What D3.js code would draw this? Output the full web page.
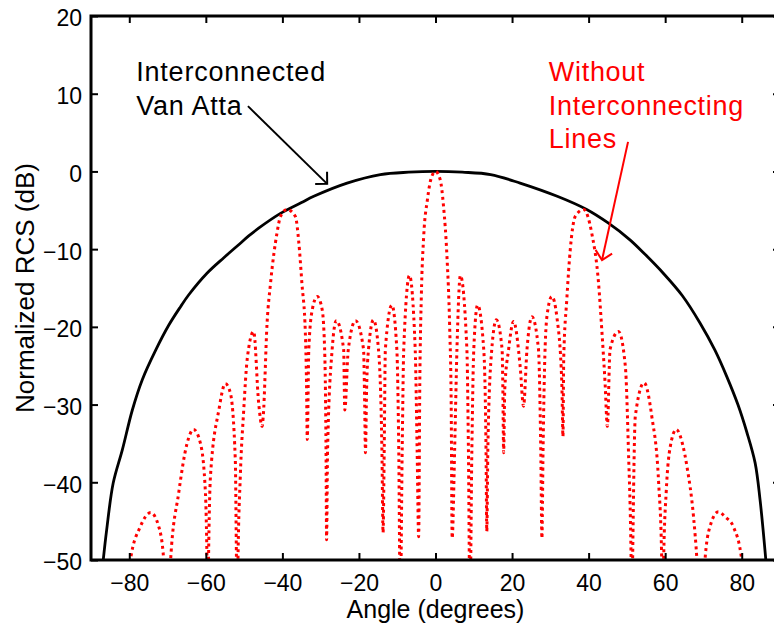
<!DOCTYPE html>
<html>
<head>
<meta charset="utf-8">
<script src="https://cdn.jsdelivr.net/npm/d3@7"></script>
<style>
  body { margin: 0; background: #fff; }
  svg { display: block; font-family: "Liberation Sans", Arial, sans-serif; }
</style>
</head>
<body>
<div id="chart"></div>
<script>
// tick values
const xTicks = [-80, -60, -40, -20, 0, 20, 40, 60, 80];
const yTicks = [-50, -40, -30, -20, -10, 0, 10, 20];

// interconnected Van Atta (solid black)
const vaAngle = [-86.8, -85.9, -84.2, -81.8, -79.2, -76.6, -73.1, -69.7, -66.6, -64.5, -59.7, -55.3, -51.8, -48.8, -46.2, -40.5, -35, -31.8, -23.1, -14.4, -7, 0,
  7, 14.4, 22.1, 31.8, 39.5, 45, 50.8, 55, 59.5, 64.5, 69.1, 73, 76.1, 79, 81.3, 83.5, 84.8, 86.3];
const vaDb = [-50, -46.1, -40.1, -35.8, -30.7, -26.8, -23.0, -19.8, -17.4, -15.9, -13.1, -11.1, -9.6, -8.3, -7.3, -5.4, -4.0, -3.2, -1.5, -0.4, -0.1, 0,
  -0.1, -0.4, -1.5, -3.2, -4.9, -6.6, -8.8, -10.8, -13.1, -16.0, -19.5, -23.0, -26.4, -30.0, -33.5, -37.5, -42.3, -50];

// without interconnecting lines (red dotted)
const rcsAngle = [
  -80.6, -79.7, -77.1, -74.4, -72.3, -71.0, -70.1,
  -69.2, -67.1, -64.9, -63.2, -61.4, -60.1, -59.7, -59.5,
  -59.3, -58.8, -56.6, -54.9, -53.6, -52.3, -52.0, -51.8,
  -51.6, -51.0, -50.1, -49.2, -47.5, -46.2, -45.3,
  -45.0, -44.0, -43.1, -41.4, -40.5, -38.8, -36.6, -35.7, -34.9, -34.0, -33.7, -33.5,
  -33.1, -32.2, -30.9, -29.6, -28.9, -28.6, -28.45,
  -28.2, -27.0, -25.9, -24.0, -23.7,
  -22.8, -20.9, -18.8, -18.5, -18.3,
  -18.0, -17.5, -16.2, -14.9, -14.0, -13.7,
  -13.4, -13.1, -11.4, -10.1, -9.6, -9.2,
  -8.7, -8.3, -6.8, -5.3, -4.8, -4.4,
  -4.1, -3.7, -3.1, -2.1, -1.2, 0, 1.2, 2.1, 3.0, 3.7, 4.1, 4.35,
  5.0, 5.6, 6.5, 8.2, 8.6, 9.0,
  9.5, 10.0, 11.0, 12.6, 13.2, 13.4,
  13.7, 14.7, 15.9, 17.4, 17.6, 17.8,
  18.1, 19.1, 20.4, 22.1, 23.0,
  23.9, 25.2, 26.9, 27.5, 27.8,
  28.1, 28.4, 29.1, 30.4, 31.7, 33.0, 33.3,
  33.5, 34.3, 35.2, 36.5, 38.7, 40.8, 42.6, 43.5, 44.3, 44.9,
  45.6, 47.8, 49.6, 50.4, 51.1, 51.3,
  51.5, 52.2, 54.5, 56.5, 58.3, 59.1, 59.35,
  59.6, 60.3, 61.3, 62.9, 64.6, 65.7, 67.4, 68.3, 69.3,
  70.4, 71.7, 73.9, 75.8, 77.8, 80.0, 80.8
];
const rcsDb = [
  -58, -50, -45.7, -43.9, -45.7, -50, -60,
  -50, -41.4, -35.0, -33.2, -35.0, -41.4, -50, -58,
  -50, -39.3, -30.7, -27.3, -28.5, -37.1, -50, -58,
  -50, -39.3, -30.7, -24.2, -20.6, -29.8, -32.8,
  -31.5, -19.5, -14.4, -7.9, -5.8, -4.9, -5.8, -9.2, -14.4, -20.8, -27.2, -34.5,
  -22.9, -17.8, -16.1, -17.8, -24, -36, -47.4,
  -36, -22.9, -19.2, -22.9, -30.7,
  -23.0, -19.2, -22.9, -30, -36.2,
  -28, -22.9, -19.1, -22.9, -35.8, -46.5,
  -35.8, -22.9, -17.2, -22.9, -35.8, -56,
  -35.8, -22.9, -13.4, -22.9, -35.8, -47,
  -27.2, -16, -8.5, -3.6, -1.0, 0, -1.0, -4.5, -11, -20, -30, -47.2,
  -35.8, -22.9, -13.4, -22.9, -35.8, -56,
  -35.8, -22.9, -17.2, -22.9, -35.8, -46.3,
  -35, -22.9, -19.1, -22.9, -28, -36.2,
  -28, -22.9, -19.3, -25, -30.2,
  -22.9, -18.7, -22.9, -35.8, -47.2,
  -35.8, -27.2, -18.7, -16.1, -18.7, -27.2, -34.1,
  -24, -16.5, -10.1, -5.8, -4.9, -7.9, -14.4, -20.8, -27.2, -32.8,
  -22.9, -20.6, -25.1, -35.8, -50, -58,
  -50, -31.5, -27.2, -31.5, -40.1, -50, -58,
  -50, -41, -35.5, -33.2, -35.2, -38, -44.4, -50, -60,
  -50, -45.7, -43.8, -44.5, -45.7, -50, -58
];

// annotations
const blackLabel = ['Interconnected', 'Van Atta'];
const redLabel = ['Without', 'Interconnecting', 'Lines'];

const width = 774;
const height = 628;
const margin = {top: 16, left: 91};
const plotW = 689;
const plotH = 544;

const x = d3.scaleLinear().domain([-90, 90]).range([margin.left, margin.left + plotW]);
const y = d3.scaleLinear().domain([-50, 20]).range([margin.top + plotH, margin.top]);

const svg = d3.select('#chart')
  .append('svg')
  .attr('width', width)
  .attr('height', height);

svg.append('clipPath')
  .attr('id', 'plotclip')
  .append('rect')
  .attr('x', x(-90)).attr('y', y(20))
  .attr('width', plotW).attr('height', plotH);

const smoothLine = d3.line()
  .x(d => x(d[0]))
  .y(d => y(d[1]))
  .curve(d3.curveCatmullRom.alpha(0.5));

const lobeLine = d3.line()
  .x(d => x(d[0]))
  .y(d => y(d[1]))
  .curve(d3.curveMonotoneX);

const vaData = vaAngle.map((a, i) => [a, vaDb[i]]);
const rcsData = rcsAngle.map((a, i) => [a, rcsDb[i]]);

const plot = svg.append('g').attr('clip-path', 'url(#plotclip)');

plot.append('path')
  .datum(vaData)
  .attr('d', smoothLine)
  .attr('fill', 'none')
  .attr('stroke', '#000')
  .attr('stroke-width', 2.8);

plot.append('path')
  .datum(rcsData)
  .attr('d', lobeLine)
  .attr('fill', 'none')
  .attr('stroke', '#ff0000')
  .attr('stroke-width', 3)
  .attr('stroke-dasharray', '3,3.6');

// axes, ticks inward
const fmt = d3.format('');
const axBottom = svg.append('g')
  .attr('transform', `translate(0,${y(-50)})`)
  .call(d3.axisBottom(x).tickValues(xTicks).tickSizeInner(-7).tickSizeOuter(0).tickPadding(14.5).tickFormat(fmt));
const axTop = svg.append('g')
  .attr('transform', `translate(0,${y(20)})`)
  .call(d3.axisTop(x).tickValues(xTicks).tickSizeInner(-7).tickSizeOuter(0).tickFormat(''));
const axLeft = svg.append('g')
  .attr('transform', `translate(${x(-90)},0)`)
  .call(d3.axisLeft(y).tickValues(yTicks).tickSizeInner(-7).tickSizeOuter(0).tickPadding(9).tickFormat(fmt));
const axRight = svg.append('g')
  .attr('transform', `translate(${x(90)},0)`)
  .call(d3.axisRight(y).tickValues(yTicks).tickSizeInner(-7).tickSizeOuter(0).tickFormat(''));

[axBottom, axTop, axLeft, axRight].forEach(g => {
  g.select('.domain').remove();
  g.selectAll('.tick line').attr('stroke', '#000').attr('stroke-width', 2);
  g.selectAll('.tick text')
    .attr('fill', '#000')
    .style('font-size', '23px')
    .style('font-family', '"Liberation Sans", Arial, sans-serif');
});
axLeft.selectAll('.tick text').attr('dy', '0.43em');

svg.append('rect')
  .attr('x', x(-90)).attr('y', y(20))
  .attr('width', plotW).attr('height', plotH)
  .attr('fill', 'none')
  .attr('stroke', '#000')
  .attr('stroke-width', 3);

// axis titles
svg.append('text')
  .attr('x', x(0))
  .attr('y', 618)
  .attr('text-anchor', 'middle')
  .style('font-size', '25px')
  .text('Angle (degrees)');

svg.append('text')
  .attr('transform', `translate(34,${(y(20) + y(-50)) / 2}) rotate(-90)`)
  .attr('text-anchor', 'middle')
  .style('font-size', '26px')
  .text('Normalized RCS (dB)');

// annotation arrows, open V head
function arrow(x0, y0, x1, y1, color) {
  const px0 = x(x0), py0 = y(y0), px1 = x(x1), py1 = y(y1);
  const len = Math.hypot(px0 - px1, py0 - py1);
  const ux = (px0 - px1) / len, uy = (py0 - py1) / len;
  const head = 12, c = Math.SQRT1_2;
  const a1 = [px1 + head * (ux * c - uy * c), py1 + head * (ux * c + uy * c)];
  const a2 = [px1 + head * (ux * c + uy * c), py1 + head * (-ux * c + uy * c)];
  const g = svg.append('g').attr('stroke', color).attr('stroke-width', 2).attr('fill', 'none');
  g.append('line').attr('x1', px0).attr('y1', py0).attr('x2', px1).attr('y2', py1);
  g.append('polyline').attr('points', `${a1} ${px1},${py1} ${a2}`);
}

svg.append('g')
  .selectAll('text')
  .data(blackLabel)
  .enter().append('text')
    .attr('x', x(-78.2))
    .attr('y', (d, i) => y(11.6) + i * 34)
    .style('font-size', '27px')
    .style('letter-spacing', '0.8px')
    .attr('fill', '#000')
    .text(d => d);

svg.append('g')
  .selectAll('text')
  .data(redLabel)
  .enter().append('text')
    .attr('x', x(29.6))
    .attr('y', (d, i) => y(11.6) + i * 33.5)
    .style('font-size', '27px')
    .style('letter-spacing', '0.7px')
    .attr('fill', '#ff0000')
    .text(d => d);

arrow(-49.0, 8.4, -28.3, -1.6, '#000');
arrow(50.3, 3.8, 43.5, -11.4, '#ff0000');
</script>
</body>
</html>
